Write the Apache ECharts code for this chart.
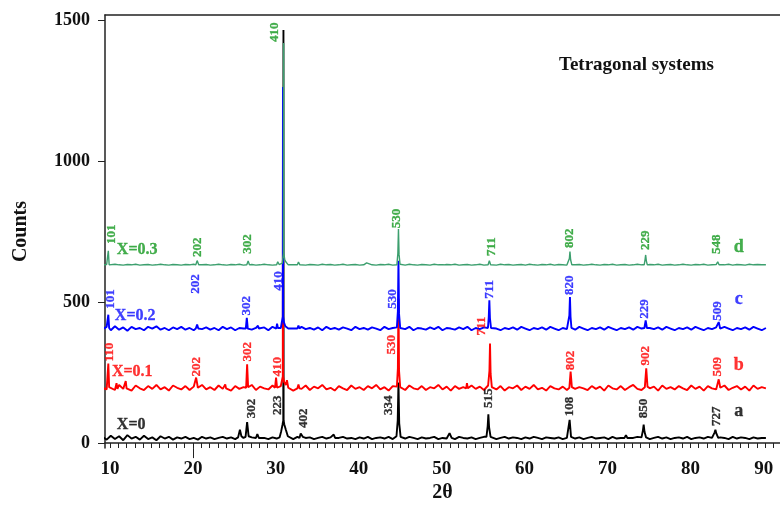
<!DOCTYPE html>
<html>
<head>
<meta charset="utf-8">
<script src="https://cdn.jsdelivr.net/npm/echarts@6/dist/echarts.min.js"></script>
<style>
  html, body { margin: 0; padding: 0; background: #fff; }
  #chart { width: 780px; height: 508px; }
</style>
</head>
<body>
<div id="chart"></div>
<script>
// XRD scans, 2θ sampled from 9.1° to 89.1° in 0.5° steps
const scanStart = 9.1;
const scanStep = 0.5;

const sampleNames = ['X=0', 'X=0.1', 'X=0.2', 'X=0.3'];
const patternLetters = ['a', 'b', 'c', 'd'];
// vertical shift of each pattern (counts)
const offsets = [0, 176, 388, 614];

// background counts along the scan
const baseX0 = [
  22, 12, 26, 14, 24, 10, 28, 16, 22, 12,
  26, 14, 20, 10, 24, 16, 22, 12, 20, 16,
  22, 14, 18, 12, 22, 16, 20, 14, 18, 22,
  16, 20, 14, 22, 18, 14, 20, 16, 22, 18,
  14, 20, 16, 22, 18, 20, 14, 22, 16, 18,
  20, 14, 18, 22, 16, 20, 14, 18, 22, 16,
  18, 14, 20, 16, 22, 14, 18, 20, 16, 22,
  14, 18, 20, 16, 22, 18, 14, 20, 16, 18,
  22, 14, 18, 16, 20, 14, 22, 18, 16, 20,
  14, 18, 22, 16, 20, 14, 18, 22, 16, 20,
  18, 14, 20, 16, 22, 18, 14, 20, 18, 16,
  20, 14, 18, 22, 16, 20, 14, 18, 22, 16,
  18, 20, 14, 22, 16, 18, 20, 14, 18, 22,
  16, 20, 14, 18, 22, 16, 20, 14, 18, 20,
  16, 22, 14, 18, 20, 16, 22, 18, 14, 20,
  18, 14, 22, 16, 20, 18, 14, 20, 16, 18,
  18
];
const baseX01 = [
  20, 14, 26, 12, 30, 16, 24, 10, 28, 18,
  12, 26, 16, 30, 14, 22, 10, 28, 20, 14,
  26, 12, 24, 18, 30, 14, 22, 12, 28, 16,
  24, 10, 26, 16, 22, 14, 30, 12, 24, 18,
  14, 28, 12, 26, 18, 22, 10, 26, 16, 28,
  12, 24, 18, 30, 14, 20, 10, 26, 18, 12,
  28, 16, 22, 12, 26, 18, 30, 14, 22, 10,
  26, 16, 24, 12, 28, 18, 14, 26, 12, 22,
  18, 30, 14, 24, 10, 26, 16, 22, 12, 28,
  16, 24, 12, 28, 18, 14, 26, 10, 22, 18,
  28, 12, 24, 16, 30, 14, 20, 10, 26, 18,
  14, 24, 12, 28, 16, 22, 18, 12, 26, 16,
  24, 10, 28, 18, 14, 26, 12, 22, 30, 16,
  12, 26, 18, 24, 10, 28, 16, 22, 14, 26,
  18, 12, 28, 16, 24, 10, 26, 18, 14, 22,
  28, 12, 20, 26, 14, 24, 10, 28, 16, 22,
  18
];
const baseX02 = [
  16, 24, 12, 26, 14, 22, 10, 24, 16, 20,
  12, 24, 18, 26, 14, 20, 12, 22, 16, 24,
  14, 20, 12, 24, 16, 22, 14, 20, 12, 24,
  16, 22, 12, 20, 18, 24, 14, 20, 16, 22,
  12, 24, 16, 20, 14, 22, 18, 12, 24, 16,
  20, 14, 22, 12, 24, 16, 20, 14, 22, 18,
  12, 24, 16, 20, 14, 22, 18, 12, 24, 16,
  20, 14, 22, 16, 24, 12, 20, 18, 14, 22,
  16, 24, 12, 20, 18, 14, 22, 16, 24, 12,
  20, 16, 22, 14, 24, 18, 12, 20, 16, 22,
  14, 24, 18, 12, 20, 16, 22, 14, 24, 18,
  12, 20, 16, 22, 14, 24, 18, 12, 20, 16,
  22, 14, 24, 18, 12, 20, 16, 22, 14, 24,
  18, 12, 20, 16, 22, 14, 24, 18, 12, 20,
  16, 22, 14, 24, 18, 12, 20, 16, 22, 14,
  24, 18, 12, 20, 16, 22, 14, 24, 18, 12,
  20
];
const baseX03 = [
  18, 19, 17, 20, 18, 17, 19, 18, 20, 17,
  18, 19, 17, 18, 20, 18, 17, 19, 18, 17,
  19, 18, 20, 17, 18, 19, 17, 18, 20, 18,
  17, 19, 18, 20, 17, 18, 19, 17, 18, 20,
  18, 17, 19, 18, 20, 17, 18, 19, 18, 17,
  19, 18, 17, 20, 18, 19, 17, 18, 20, 17,
  18, 19, 17, 18, 20, 18, 17, 19, 18, 20,
  17, 18, 19, 17, 20, 18, 17, 19, 18, 17,
  20, 18, 17, 19, 18, 20, 17, 18, 19, 17,
  18, 20, 17, 19, 18, 17, 20, 18, 19, 17,
  18, 19, 17, 20, 18, 17, 19, 18, 20, 17,
  19, 18, 17, 20, 18, 19, 17, 18, 20, 18,
  17, 19, 18, 20, 17, 18, 19, 17, 18, 20,
  18, 17, 19, 18, 20, 17, 18, 19, 17, 18,
  20, 18, 17, 19, 18, 20, 17, 18, 19, 17,
  18, 20, 17, 19, 18, 17, 20, 18, 19, 18,
  18
];

// reflections: [2θ, counts] points across each peak
const peaksX0 = [
  [[25.45, 20], [25.67, 47], [25.85, 24]],
  [[26.35, 22], [26.54, 74], [26.72, 24]],
  [[27.6, 18], [27.77, 32], [27.95, 18]],
  [[30.45, 20], [30.65, 42], [30.8, 64], [30.9, 80], [30.92, 1465], [30.94, 80], [31.02, 66], [31.2, 48], [31.45, 24]],
  [[32.85, 18], [33.0, 34], [33.09, 39], [33.25, 22]],
  [[36.8, 18], [36.98, 30], [37.15, 18]],
  [[44.55, 24], [44.7, 80], [44.79, 215], [44.88, 70], [45.05, 22]],
  [[50.7, 18], [50.95, 35], [51.2, 18]],
  [[55.4, 22], [55.55, 60], [55.63, 102], [55.72, 55], [55.9, 22]],
  [[65.25, 20], [65.43, 82], [65.6, 22]],
  [[72.05, 18], [72.22, 28], [72.4, 18]],
  [[74.1, 20], [74.27, 45], [74.36, 65], [74.46, 40], [74.65, 20]],
  [[82.75, 20], [82.92, 38], [83.01, 47], [83.12, 34], [83.35, 18]]
];
const peaksX01 = [
  [[9.7, 20], [9.8, 106], [9.9, 22]],
  [[10.7, 18], [10.79, 36], [10.9, 16]],
  [[11.8, 20], [11.9, 44], [12.0, 18]],
  [[20.2, 20], [20.39, 56], [20.6, 20]],
  [[23.8, 18], [23.9, 32], [24.0, 18]],
  [[26.42, 20], [26.54, 103], [26.66, 22]],
  [[29.9, 20], [30.03, 56], [30.15, 20]],
  [[30.72, 24], [30.84, 60], [30.86, 880], [30.88, 60], [31.0, 40], [31.2, 30], [31.34, 47], [31.5, 20]],
  [[32.6, 18], [32.73, 32], [32.85, 18]],
  [[44.6, 24], [44.72, 90], [44.79, 336], [44.86, 80], [45.0, 22]],
  [[52.95, 18], [53.05, 36], [53.15, 18]],
  [[55.65, 22], [55.76, 80], [55.83, 177], [55.9, 70], [56.05, 22]],
  [[65.4, 20], [65.55, 77], [65.7, 22]],
  [[74.5, 22], [74.67, 89], [74.82, 24]],
  [[83.2, 20], [83.41, 50], [83.6, 20]]
];
const peaksX02 = [
  [[9.7, 18], [9.8, 67], [9.9, 20]],
  [[20.35, 18], [20.51, 32], [20.65, 18]],
  [[26.38, 18], [26.5, 56], [26.62, 18]],
  [[27.75, 18], [27.85, 28], [27.95, 18]],
  [[30.05, 18], [30.15, 35], [30.25, 20]],
  [[30.72, 26], [30.84, 60], [30.86, 875], [30.88, 60], [30.98, 40], [31.15, 26], [31.34, 28], [31.5, 18]],
  [[32.6, 18], [32.73, 29], [32.85, 18]],
  [[44.6, 22], [44.72, 80], [44.79, 258], [44.86, 70], [45.0, 20]],
  [[55.58, 20], [55.68, 60], [55.75, 118], [55.82, 55], [55.95, 20]],
  [[65.3, 20], [65.4, 65], [65.47, 130], [65.54, 60], [65.65, 20]],
  [[74.45, 20], [74.6, 47], [74.75, 20]],
  [[83.25, 18], [83.41, 41], [83.58, 18]]
];
const peaksX03 = [
  [[9.7, 18], [9.8, 68], [9.9, 18]],
  [[20.35, 18], [20.51, 33], [20.7, 18]],
  [[26.5, 18], [26.66, 32], [26.82, 18]],
  [[30.1, 18], [30.23, 29], [30.4, 19]],
  [[30.78, 24], [30.92, 60], [30.94, 805], [30.96, 60], [31.08, 36], [31.22, 28], [31.34, 33], [31.5, 18]],
  [[32.6, 18], [32.73, 28], [32.9, 18]],
  [[40.8, 18], [40.95, 25], [41.1, 18]],
  [[44.62, 20], [44.72, 60], [44.79, 145], [44.86, 55], [44.98, 20]],
  [[49.9, 18], [50.08, 23], [50.25, 18]],
  [[55.6, 18], [55.75, 33], [55.9, 18]],
  [[65.3, 18], [65.4, 40], [65.47, 65], [65.55, 36], [65.7, 18]],
  [[74.42, 18], [74.52, 35], [74.6, 53], [74.68, 32], [74.8, 18]],
  [[83.12, 18], [83.29, 29], [83.45, 18]]
];

// Miller indices written beside the reflections: [2θ, counts, hkl]
const hklX0 = [
  [27.14, 88, '302'], [30.23, 99, '223'], [33.33, 53, '402'], [43.57, 99, '334'],
  [55.71, 124, '515'], [65.47, 95, '108'], [74.4, 88, '850'], [83.1, 60, '727']
];
const hklX01 = [
  [10.0, 113, '110'], [20.47, 60, '202'], [26.66, 113, '302'], [30.23, 60, '410'],
  [43.92, 138, '530'], [54.88, 205, '711'], [65.59, 82, '802'], [74.64, 99, '902'],
  [83.33, 60, '509']
];
const hklX02 = [
  [10.09, 88, '101'], [20.35, 141, '202'], [26.54, 64, '302'], [30.35, 152, '410'],
  [44.13, 88, '530'], [55.83, 124, '711'], [65.47, 137, '820'], [74.52, 53, '229'],
  [83.33, 46, '509']
];
const hklX03 = [
  [10.23, 92, '101'], [20.59, 46, '202'], [26.66, 57, '302'], [29.88, 808, '410'],
  [44.52, 148, '530'], [56.07, 49, '711'], [65.47, 78, '802'], [74.58, 71, '229'],
  [83.21, 56, '548']
];

// where the sample name and the pattern letter sit: [2θ, counts]
const nameAnchors = [[10.83, 64], [10.23, 78], [10.59, 64], [10.83, 71]];
const letterAnchors = [[85.83, 113], [85.83, 99], [85.83, 120], [85.83, 81]];

const xTickLabels = [10, 20, 30, 40, 50, 60, 70, 80, 90];
const yTickLabels = [0, 500, 1000, 1500];

const bases = [baseX0, baseX01, baseX02, baseX03];
const peakSets = [peaksX0, peaksX01, peaksX02, peaksX03];
const hklSets = [hklX0, hklX01, hklX02, hklX03];

const lineColors = ['#000000', '#ff0000', '#0000ff', '#3c9f6e'];
const lineWidths = [1.9, 1.9, 1.9, 1.4];
const textColors = ['#000000', '#ff0000', '#1010ff', '#169a22'];
const serif = "'Liberation Serif', 'DejaVu Serif', serif";

// background samples outside the reflections, plus the reflection points, shifted up
function buildTrace(base, peaks, offset) {
  const pts = [];
  base.forEach((v, i) => {
    const t = +(scanStart + i * scanStep).toFixed(2);
    const inside = peaks.some(p => t >= p[0][0] && t <= p[p.length - 1][0]);
    if (!inside) pts.push([t, v]);
  });
  peaks.forEach(p => p.forEach(q => pts.push([q[0], q[1]])));
  pts.sort((a, b) => a[0] - b[0]);
  return pts.map(p => [p[0], p[1] + offset]);
}

const minorTicks = [];
for (let t = 10; t <= 90; t++) minorTicks.push(t);

const series = [];
bases.forEach((base, k) => {
  series.push({
    type: 'line',
    name: sampleNames[k],
    data: buildTrace(base, peakSets[k], offsets[k]),
    showSymbol: false,
    symbol: 'none',
    clip: false,
    z: 2 + k,
    lineStyle: { color: lineColors[k], width: lineWidths[k] },
    emphasis: { disabled: true }
  });
});
hklSets.forEach((set, k) => {
  series.push({
    type: 'scatter',
    symbolSize: 0,
    z: 10,
    silent: true,
    data: set.map(h => ({ value: [h[0], h[1] + offsets[k]], name: h[2] })),
    label: {
      show: true,
      formatter: '{b}',
      position: [0, 0],
      rotate: 90,
      align: 'left',
      verticalAlign: 'middle',
      color: textColors[k],
      textBorderColor: textColors[k],
      textBorderWidth: 0.3,
      fontFamily: serif,
      fontWeight: 'bold',
      fontSize: 13
    }
  });
});
series.push({
  type: 'scatter',
  symbolSize: 0,
  z: 10,
  silent: true,
  data: nameAnchors.map((a, k) => ({
    value: [a[0], a[1] + offsets[k]],
    name: sampleNames[k],
    label: { color: textColors[k], textBorderColor: textColors[k] }
  })),
  label: {
    show: true,
    formatter: '{b}',
    position: [0, 0],
    align: 'left',
    verticalAlign: 'middle',
    textBorderWidth: 0.3,
    fontFamily: serif,
    fontWeight: 'bold',
    fontSize: 16
  }
});
series.push({
  type: 'scatter',
  symbolSize: 0,
  z: 10,
  silent: true,
  data: letterAnchors.map((a, k) => ({
    value: [a[0], a[1] + offsets[k]],
    name: patternLetters[k],
    label: { color: textColors[k], textBorderColor: textColors[k] }
  })),
  label: {
    show: true,
    formatter: '{b}',
    position: [0, 0],
    align: 'center',
    verticalAlign: 'middle',
    textBorderWidth: 0.3,
    fontFamily: serif,
    fontWeight: 'bold',
    fontSize: 18
  }
});

const xMin = 9.4, xMax = 90.8;
const axisColor = '#222';

const option = {
  animation: false,
  backgroundColor: '#fff',
  title: {
    text: 'Tetragonal systems',
    left: 554,
    top: 51,
    textStyle: { fontFamily: serif, fontWeight: 'bold', fontSize: 19, color: '#111' }
  },
  grid: { left: 105, right: -9, top: 15, bottom: 58 },
  xAxis: [
    {
      type: 'value',
      min: xMin,
      max: xMax,
      name: '2θ',
      nameLocation: 'middle',
      nameGap: 30,
      nameTextStyle: { fontFamily: serif, fontWeight: 'bold', fontSize: 20, color: '#111' },
      splitLine: { show: false },
      axisLine: { show: true, lineStyle: { color: axisColor, width: 1.5 } },
      axisTick: { show: true, customValues: minorTicks, length: 5, lineStyle: { color: axisColor, width: 1 } },
      axisLabel: {
        customValues: xTickLabels,
        margin: 11,
        alignMaxLabel: 'right',
        formatter: v => String(v),
        fontFamily: serif, fontWeight: 'bold', fontSize: 19, color: '#111'
      }
    },
    {
      type: 'value',
      position: 'top',
      min: xMin,
      max: xMax,
      splitLine: { show: false },
      axisLine: { show: true, onZero: false, lineStyle: { color: axisColor, width: 1.5 } },
      axisTick: { show: false },
      axisLabel: { show: false }
    },
    {
      type: 'value',
      position: 'bottom',
      min: xMin,
      max: xMax,
      splitLine: { show: false },
      axisLine: { show: false },
      axisTick: { show: true, customValues: [20], length: 10, lineStyle: { color: axisColor, width: 1 } },
      axisLabel: { show: false }
    }
  ],
  yAxis: {
    type: 'value',
    min: -18,
    max: 1518,
    name: 'Counts',
    nameLocation: 'middle',
    nameRotate: 90,
    nameGap: 74,
    nameTextStyle: { fontFamily: serif, fontWeight: 'bold', fontSize: 20, color: '#111' },
    splitLine: { show: false },
    axisLine: { show: true, onZero: false, lineStyle: { color: axisColor, width: 1.5 } },
    axisTick: { show: true, customValues: yTickLabels, length: 7, lineStyle: { color: axisColor, width: 1 } },
    axisLabel: {
      customValues: yTickLabels,
      margin: 15,
      formatter: v => String(v),
      fontFamily: serif, fontWeight: 'bold', fontSize: 18, color: '#111'
    }
  },
  series: series
};

const chart = echarts.init(document.getElementById('chart'), null, { renderer: 'canvas' });
chart.setOption(option);
</script>
</body>
</html>
